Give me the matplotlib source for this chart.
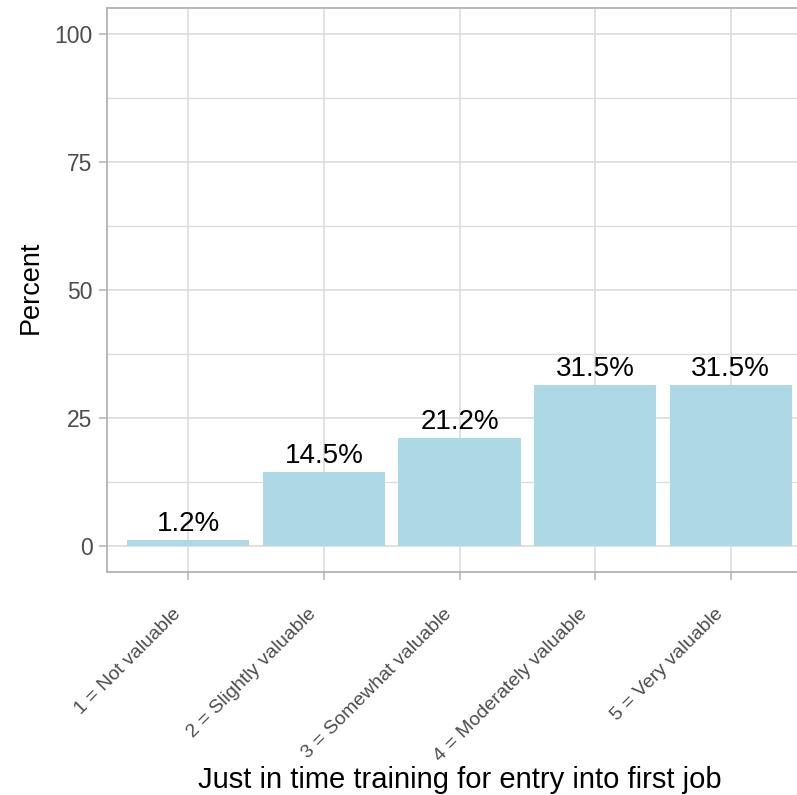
import matplotlib.pyplot as plt
import matplotlib.transforms as mtransforms
import numpy as np

# data
categories = ["1 = Not valuable", "2 = Slightly valuable", "3 = Somewhat valuable",
              "4 = Moderately valuable", "5 = Very valuable"]
percents = [1.2, 14.5, 21.2, 31.5, 31.5]
x_title = "Just in time training for entry into first job"
y_title = "Percent"

plt.rcParams.update({'font.family': ['Liberation Sans', 'DejaVu Sans']})

grid_col = '#DEDEDE'
border_col = '#B3B3B3'
tick_col = '#4D4D4D'

fig = plt.figure(figsize=(7.97, 7.95), dpi=100)
# panel runs a bit past the right edge, like the reference crop
ax = fig.add_axes([107 / 797, (795 - 572) / 795, (812 - 107) / 797, 564 / 795])

x_pos = np.arange(1, len(categories) + 1)
ax.bar(x_pos, percents, width=0.9, color='#ADD8E6', zorder=2)

for x, v in zip(x_pos, percents):
    ax.annotate("{:.1f}%".format(v), (x, v), xytext=(0, 6.5), textcoords='offset points',
                ha='center', va='baseline', fontsize=20, color='black', zorder=3)

ax.set_xlim(0.4, 5.6)
ax.set_ylim(-5, 105)
ax.set_xticks(x_pos)
ax.set_xticklabels(categories, rotation=45, ha='right', rotation_mode='anchor',
                   fontsize=14, color=tick_col)

ax.set_yticks([0, 25, 50, 75, 100])
ax.set_yticks([12.5, 37.5, 62.5, 87.5], minor=True)
ax.tick_params(axis='y', labelsize=16.5, colors=tick_col, length=5.5, width=1.1, color=border_col, pad=5)
ax.tick_params(axis='x', colors=tick_col, length=5.5, width=1.1, color=border_col, pad=18.5)
ax.tick_params(which='minor', length=0)

# nudge rotated labels left (after tick_params, which resets transforms)
shift = mtransforms.ScaledTranslation(-16 / 100, 0, fig.dpi_scale_trans)
for lbl in ax.get_xticklabels():
    lbl.set_transform(lbl.get_transform() + shift)

ax.grid(True, which='major', color=grid_col, linewidth=1.3, zorder=0)
ax.grid(True, which='minor', axis='y', color=grid_col, linewidth=1.0, zorder=0)
ax.set_axisbelow(True)

for s in ax.spines.values():
    s.set_color(border_col)
    s.set_linewidth(1.3)

ax.set_xlabel(x_title, fontsize=21, color='black', va='baseline')
ax.xaxis.set_label_coords(0.5, -(788 - 572) / 564)
ax.set_ylabel(y_title, fontsize=19.5, color='black', va='center')
ax.yaxis.set_label_coords((31 - 107) / 705, 0.504)

fig.savefig('out.png', dpi=100)
